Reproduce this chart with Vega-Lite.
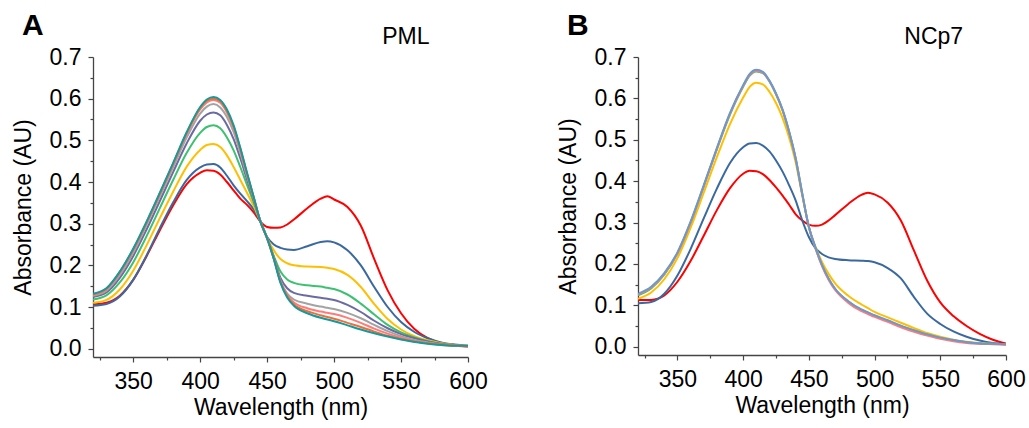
{
"$schema": "https://vega.github.io/schema/vega-lite/v6.json",
"background": "white",
"padding": {"left": 12, "top": 10, "right": 5, "bottom": 5},
"spacing": 69,
"resolve": {"scale": {"color": "independent"}},
"config": {
  "font": "Liberation Sans",
  "view": {"stroke": null},
  "axis": {"labelFont": "Liberation Sans", "titleFont": "Liberation Sans", "labelFontSize": 23, "titleFontSize": 23, "titleFontWeight": "normal", "labelColor": "#000", "titleColor": "#000", "domainColor": "#444", "tickColor": "#444", "domainWidth": 1.3, "tickWidth": 1.2, "grid": false, "labelOverlap": false, "labelFlush": false},
  "title": {"font": "Liberation Sans", "fontSize": 30, "fontWeight": "bold", "color": "#000", "anchor": "start", "frame": "bounds"}
},
"datasets": {
"A": [
{"s":"red","x":320,"y":0.106},{"s":"red","x":330,"y":0.11},{"s":"red","x":340,"y":0.127},{"s":"red","x":350,"y":0.165},{"s":"red","x":360,"y":0.222},{"s":"red","x":370,"y":0.285},{"s":"red","x":380,"y":0.345},{"s":"red","x":390,"y":0.395},{"s":"red","x":400,"y":0.422},{"s":"red","x":405,"y":0.428},{"s":"red","x":410,"y":0.427},{"s":"red","x":415,"y":0.418},{"s":"red","x":420,"y":0.4},{"s":"red","x":425,"y":0.38},{"s":"red","x":430,"y":0.36},{"s":"red","x":435,"y":0.345},{"s":"red","x":440,"y":0.327},{"s":"red","x":445,"y":0.305},{"s":"red","x":450,"y":0.292},{"s":"red","x":455,"y":0.29},{"s":"red","x":460,"y":0.291},{"s":"red","x":465,"y":0.298},{"s":"red","x":470,"y":0.31},{"s":"red","x":480,"y":0.337},{"s":"red","x":490,"y":0.36},{"s":"red","x":495,"y":0.366},{"s":"red","x":500,"y":0.358},{"s":"red","x":510,"y":0.34},{"s":"red","x":520,"y":0.295},{"s":"red","x":530,"y":0.215},{"s":"red","x":540,"y":0.14},{"s":"red","x":550,"y":0.085},{"s":"red","x":560,"y":0.047},{"s":"red","x":570,"y":0.025},{"s":"red","x":580,"y":0.013},{"s":"red","x":590,"y":0.008},{"s":"red","x":600,"y":0.005},
{"s":"blue","x":320,"y":0.103},{"s":"blue","x":330,"y":0.107},{"s":"blue","x":340,"y":0.125},{"s":"blue","x":350,"y":0.165},{"s":"blue","x":360,"y":0.224},{"s":"blue","x":370,"y":0.29},{"s":"blue","x":380,"y":0.352},{"s":"blue","x":390,"y":0.405},{"s":"blue","x":400,"y":0.435},{"s":"blue","x":405,"y":0.442},{"s":"blue","x":410,"y":0.443},{"s":"blue","x":415,"y":0.435},{"s":"blue","x":420,"y":0.415},{"s":"blue","x":425,"y":0.392},{"s":"blue","x":430,"y":0.372},{"s":"blue","x":435,"y":0.354},{"s":"blue","x":440,"y":0.334},{"s":"blue","x":445,"y":0.305},{"s":"blue","x":450,"y":0.268},{"s":"blue","x":455,"y":0.25},{"s":"blue","x":460,"y":0.242},{"s":"blue","x":465,"y":0.238},{"s":"blue","x":470,"y":0.237},{"s":"blue","x":480,"y":0.246},{"s":"blue","x":490,"y":0.256},{"s":"blue","x":495,"y":0.258},{"s":"blue","x":500,"y":0.255},{"s":"blue","x":510,"y":0.236},{"s":"blue","x":520,"y":0.2},{"s":"blue","x":530,"y":0.148},{"s":"blue","x":540,"y":0.1},{"s":"blue","x":550,"y":0.064},{"s":"blue","x":560,"y":0.04},{"s":"blue","x":570,"y":0.025},{"s":"blue","x":580,"y":0.015},{"s":"blue","x":590,"y":0.01},{"s":"blue","x":600,"y":0.007},
{"s":"yellow","x":320,"y":0.11},{"s":"yellow","x":330,"y":0.117},{"s":"yellow","x":340,"y":0.142},{"s":"yellow","x":350,"y":0.187},{"s":"yellow","x":360,"y":0.248},{"s":"yellow","x":370,"y":0.314},{"s":"yellow","x":380,"y":0.378},{"s":"yellow","x":390,"y":0.437},{"s":"yellow","x":400,"y":0.477},{"s":"yellow","x":405,"y":0.489},{"s":"yellow","x":410,"y":0.491},{"s":"yellow","x":415,"y":0.484},{"s":"yellow","x":420,"y":0.464},{"s":"yellow","x":425,"y":0.436},{"s":"yellow","x":430,"y":0.405},{"s":"yellow","x":435,"y":0.374},{"s":"yellow","x":440,"y":0.342},{"s":"yellow","x":445,"y":0.306},{"s":"yellow","x":450,"y":0.266},{"s":"yellow","x":455,"y":0.236},{"s":"yellow","x":460,"y":0.215},{"s":"yellow","x":465,"y":0.205},{"s":"yellow","x":470,"y":0.2},{"s":"yellow","x":480,"y":0.197},{"s":"yellow","x":490,"y":0.196},{"s":"yellow","x":495,"y":0.194},{"s":"yellow","x":500,"y":0.191},{"s":"yellow","x":510,"y":0.177},{"s":"yellow","x":520,"y":0.148},{"s":"yellow","x":530,"y":0.107},{"s":"yellow","x":540,"y":0.071},{"s":"yellow","x":550,"y":0.046},{"s":"yellow","x":560,"y":0.03},{"s":"yellow","x":570,"y":0.02},{"s":"yellow","x":580,"y":0.013},{"s":"yellow","x":590,"y":0.009},{"s":"yellow","x":600,"y":0.006},
{"s":"green","x":320,"y":0.118},{"s":"green","x":330,"y":0.128},{"s":"green","x":340,"y":0.159},{"s":"green","x":350,"y":0.207},{"s":"green","x":360,"y":0.27},{"s":"green","x":370,"y":0.338},{"s":"green","x":380,"y":0.406},{"s":"green","x":390,"y":0.47},{"s":"green","x":400,"y":0.518},{"s":"green","x":405,"y":0.532},{"s":"green","x":410,"y":0.536},{"s":"green","x":415,"y":0.529},{"s":"green","x":420,"y":0.507},{"s":"green","x":425,"y":0.476},{"s":"green","x":430,"y":0.436},{"s":"green","x":435,"y":0.393},{"s":"green","x":440,"y":0.351},{"s":"green","x":445,"y":0.307},{"s":"green","x":450,"y":0.265},{"s":"green","x":455,"y":0.222},{"s":"green","x":460,"y":0.185},{"s":"green","x":465,"y":0.166},{"s":"green","x":470,"y":0.158},{"s":"green","x":480,"y":0.152},{"s":"green","x":490,"y":0.149},{"s":"green","x":495,"y":0.146},{"s":"green","x":500,"y":0.143},{"s":"green","x":510,"y":0.13},{"s":"green","x":520,"y":0.108},{"s":"green","x":530,"y":0.082},{"s":"green","x":540,"y":0.057},{"s":"green","x":550,"y":0.039},{"s":"green","x":560,"y":0.027},{"s":"green","x":570,"y":0.018},{"s":"green","x":580,"y":0.012},{"s":"green","x":590,"y":0.008},{"s":"green","x":600,"y":0.006},
{"s":"purple","x":320,"y":0.124},{"s":"purple","x":330,"y":0.135},{"s":"purple","x":340,"y":0.17},{"s":"purple","x":350,"y":0.222},{"s":"purple","x":360,"y":0.286},{"s":"purple","x":370,"y":0.355},{"s":"purple","x":380,"y":0.425},{"s":"purple","x":390,"y":0.493},{"s":"purple","x":400,"y":0.547},{"s":"purple","x":405,"y":0.562},{"s":"purple","x":410,"y":0.567},{"s":"purple","x":415,"y":0.56},{"s":"purple","x":420,"y":0.537},{"s":"purple","x":425,"y":0.503},{"s":"purple","x":430,"y":0.457},{"s":"purple","x":435,"y":0.406},{"s":"purple","x":440,"y":0.357},{"s":"purple","x":445,"y":0.306},{"s":"purple","x":450,"y":0.265},{"s":"purple","x":455,"y":0.22},{"s":"purple","x":460,"y":0.17},{"s":"purple","x":465,"y":0.145},{"s":"purple","x":470,"y":0.134},{"s":"purple","x":480,"y":0.127},{"s":"purple","x":490,"y":0.122},{"s":"purple","x":495,"y":0.12},{"s":"purple","x":500,"y":0.117},{"s":"purple","x":510,"y":0.105},{"s":"purple","x":520,"y":0.088},{"s":"purple","x":530,"y":0.067},{"s":"purple","x":540,"y":0.049},{"s":"purple","x":550,"y":0.035},{"s":"purple","x":560,"y":0.025},{"s":"purple","x":570,"y":0.017},{"s":"purple","x":580,"y":0.011},{"s":"purple","x":590,"y":0.008},{"s":"purple","x":600,"y":0.006},
{"s":"gray","x":320,"y":0.127},{"s":"gray","x":330,"y":0.139},{"s":"gray","x":340,"y":0.177},{"s":"gray","x":350,"y":0.231},{"s":"gray","x":360,"y":0.297},{"s":"gray","x":370,"y":0.366},{"s":"gray","x":380,"y":0.437},{"s":"gray","x":390,"y":0.507},{"s":"gray","x":400,"y":0.564},{"s":"gray","x":405,"y":0.581},{"s":"gray","x":410,"y":0.587},{"s":"gray","x":415,"y":0.579},{"s":"gray","x":420,"y":0.556},{"s":"gray","x":425,"y":0.52},{"s":"gray","x":430,"y":0.47},{"s":"gray","x":435,"y":0.414},{"s":"gray","x":440,"y":0.361},{"s":"gray","x":445,"y":0.305},{"s":"gray","x":450,"y":0.265},{"s":"gray","x":455,"y":0.217},{"s":"gray","x":460,"y":0.163},{"s":"gray","x":465,"y":0.132},{"s":"gray","x":470,"y":0.118},{"s":"gray","x":480,"y":0.108},{"s":"gray","x":490,"y":0.101},{"s":"gray","x":495,"y":0.098},{"s":"gray","x":500,"y":0.095},{"s":"gray","x":510,"y":0.086},{"s":"gray","x":520,"y":0.073},{"s":"gray","x":530,"y":0.057},{"s":"gray","x":540,"y":0.042},{"s":"gray","x":550,"y":0.03},{"s":"gray","x":560,"y":0.021},{"s":"gray","x":570,"y":0.015},{"s":"gray","x":580,"y":0.01},{"s":"gray","x":590,"y":0.008},{"s":"gray","x":600,"y":0.006},
{"s":"salmon","x":320,"y":0.129},{"s":"salmon","x":330,"y":0.142},{"s":"salmon","x":340,"y":0.182},{"s":"salmon","x":350,"y":0.236},{"s":"salmon","x":360,"y":0.302},{"s":"salmon","x":370,"y":0.371},{"s":"salmon","x":380,"y":0.443},{"s":"salmon","x":390,"y":0.515},{"s":"salmon","x":400,"y":0.574},{"s":"salmon","x":405,"y":0.591},{"s":"salmon","x":410,"y":0.597},{"s":"salmon","x":415,"y":0.59},{"s":"salmon","x":420,"y":0.567},{"s":"salmon","x":425,"y":0.53},{"s":"salmon","x":430,"y":0.477},{"s":"salmon","x":435,"y":0.419},{"s":"salmon","x":440,"y":0.363},{"s":"salmon","x":445,"y":0.305},{"s":"salmon","x":450,"y":0.265},{"s":"salmon","x":455,"y":0.216},{"s":"salmon","x":460,"y":0.161},{"s":"salmon","x":465,"y":0.128},{"s":"salmon","x":470,"y":0.111},{"s":"salmon","x":480,"y":0.097},{"s":"salmon","x":490,"y":0.089},{"s":"salmon","x":495,"y":0.086},{"s":"salmon","x":500,"y":0.083},{"s":"salmon","x":510,"y":0.074},{"s":"salmon","x":520,"y":0.062},{"s":"salmon","x":530,"y":0.048},{"s":"salmon","x":540,"y":0.036},{"s":"salmon","x":550,"y":0.026},{"s":"salmon","x":560,"y":0.018},{"s":"salmon","x":570,"y":0.013},{"s":"salmon","x":580,"y":0.009},{"s":"salmon","x":590,"y":0.007},{"s":"salmon","x":600,"y":0.005},
{"s":"orange","x":320,"y":0.13},{"s":"orange","x":330,"y":0.144},{"s":"orange","x":340,"y":0.184},{"s":"orange","x":350,"y":0.238},{"s":"orange","x":360,"y":0.303},{"s":"orange","x":370,"y":0.373},{"s":"orange","x":380,"y":0.445},{"s":"orange","x":390,"y":0.518},{"s":"orange","x":400,"y":0.577},{"s":"orange","x":405,"y":0.595},{"s":"orange","x":410,"y":0.6},{"s":"orange","x":415,"y":0.594},{"s":"orange","x":420,"y":0.57},{"s":"orange","x":425,"y":0.533},{"s":"orange","x":430,"y":0.48},{"s":"orange","x":435,"y":0.42},{"s":"orange","x":440,"y":0.363},{"s":"orange","x":445,"y":0.305},{"s":"orange","x":450,"y":0.265},{"s":"orange","x":455,"y":0.216},{"s":"orange","x":460,"y":0.16},{"s":"orange","x":465,"y":0.126},{"s":"orange","x":470,"y":0.106},{"s":"orange","x":480,"y":0.09},{"s":"orange","x":490,"y":0.08},{"s":"orange","x":495,"y":0.076},{"s":"orange","x":500,"y":0.072},{"s":"orange","x":510,"y":0.062},{"s":"orange","x":520,"y":0.052},{"s":"orange","x":530,"y":0.041},{"s":"orange","x":540,"y":0.031},{"s":"orange","x":550,"y":0.023},{"s":"orange","x":560,"y":0.017},{"s":"orange","x":570,"y":0.013},{"s":"orange","x":580,"y":0.01},{"s":"orange","x":590,"y":0.008},{"s":"orange","x":600,"y":0.007},
{"s":"teal","x":320,"y":0.132},{"s":"teal","x":330,"y":0.145},{"s":"teal","x":340,"y":0.185},{"s":"teal","x":350,"y":0.24},{"s":"teal","x":360,"y":0.305},{"s":"teal","x":370,"y":0.375},{"s":"teal","x":380,"y":0.447},{"s":"teal","x":390,"y":0.52},{"s":"teal","x":400,"y":0.58},{"s":"teal","x":405,"y":0.598},{"s":"teal","x":410,"y":0.604},{"s":"teal","x":415,"y":0.597},{"s":"teal","x":420,"y":0.574},{"s":"teal","x":425,"y":0.536},{"s":"teal","x":430,"y":0.482},{"s":"teal","x":435,"y":0.422},{"s":"teal","x":440,"y":0.364},{"s":"teal","x":445,"y":0.305},{"s":"teal","x":450,"y":0.265},{"s":"teal","x":455,"y":0.215},{"s":"teal","x":460,"y":0.158},{"s":"teal","x":465,"y":0.123},{"s":"teal","x":470,"y":0.103},{"s":"teal","x":480,"y":0.085},{"s":"teal","x":490,"y":0.074},{"s":"teal","x":495,"y":0.07},{"s":"teal","x":500,"y":0.066},{"s":"teal","x":510,"y":0.056},{"s":"teal","x":520,"y":0.046},{"s":"teal","x":530,"y":0.037},{"s":"teal","x":540,"y":0.029},{"s":"teal","x":550,"y":0.022},{"s":"teal","x":560,"y":0.016},{"s":"teal","x":570,"y":0.012},{"s":"teal","x":580,"y":0.009},{"s":"teal","x":590,"y":0.007},{"s":"teal","x":600,"y":0.007}
],
"B": [
{"s":"red","x":320,"y":0.113},{"s":"red","x":330,"y":0.113},{"s":"red","x":340,"y":0.124},{"s":"red","x":350,"y":0.157},{"s":"red","x":360,"y":0.207},{"s":"red","x":370,"y":0.268},{"s":"red","x":380,"y":0.33},{"s":"red","x":390,"y":0.383},{"s":"red","x":400,"y":0.418},{"s":"red","x":405,"y":0.425},{"s":"red","x":410,"y":0.424},{"s":"red","x":415,"y":0.417},{"s":"red","x":420,"y":0.403},{"s":"red","x":425,"y":0.385},{"s":"red","x":430,"y":0.365},{"s":"red","x":435,"y":0.343},{"s":"red","x":440,"y":0.32},{"s":"red","x":445,"y":0.305},{"s":"red","x":450,"y":0.295},{"s":"red","x":455,"y":0.292},{"s":"red","x":460,"y":0.295},{"s":"red","x":465,"y":0.305},{"s":"red","x":470,"y":0.318},{"s":"red","x":480,"y":0.345},{"s":"red","x":490,"y":0.367},{"s":"red","x":495,"y":0.372},{"s":"red","x":500,"y":0.368},{"s":"red","x":510,"y":0.348},{"s":"red","x":520,"y":0.305},{"s":"red","x":530,"y":0.232},{"s":"red","x":540,"y":0.16},{"s":"red","x":550,"y":0.107},{"s":"red","x":560,"y":0.074},{"s":"red","x":570,"y":0.05},{"s":"red","x":580,"y":0.031},{"s":"red","x":590,"y":0.017},{"s":"red","x":600,"y":0.008},
{"s":"blue","x":320,"y":0.105},{"s":"blue","x":330,"y":0.108},{"s":"blue","x":340,"y":0.128},{"s":"blue","x":350,"y":0.172},{"s":"blue","x":360,"y":0.236},{"s":"blue","x":370,"y":0.31},{"s":"blue","x":380,"y":0.382},{"s":"blue","x":390,"y":0.444},{"s":"blue","x":400,"y":0.482},{"s":"blue","x":405,"y":0.491},{"s":"blue","x":410,"y":0.492},{"s":"blue","x":415,"y":0.486},{"s":"blue","x":420,"y":0.472},{"s":"blue","x":425,"y":0.45},{"s":"blue","x":430,"y":0.423},{"s":"blue","x":435,"y":0.39},{"s":"blue","x":440,"y":0.353},{"s":"blue","x":445,"y":0.305},{"s":"blue","x":450,"y":0.265},{"s":"blue","x":455,"y":0.238},{"s":"blue","x":460,"y":0.224},{"s":"blue","x":465,"y":0.216},{"s":"blue","x":470,"y":0.212},{"s":"blue","x":480,"y":0.209},{"s":"blue","x":490,"y":0.208},{"s":"blue","x":495,"y":0.207},{"s":"blue","x":500,"y":0.204},{"s":"blue","x":510,"y":0.19},{"s":"blue","x":520,"y":0.165},{"s":"blue","x":530,"y":0.12},{"s":"blue","x":540,"y":0.08},{"s":"blue","x":550,"y":0.055},{"s":"blue","x":560,"y":0.037},{"s":"blue","x":570,"y":0.024},{"s":"blue","x":580,"y":0.015},{"s":"blue","x":590,"y":0.009},{"s":"blue","x":600,"y":0.006},
{"s":"yellow","x":320,"y":0.116},{"s":"yellow","x":330,"y":0.131},{"s":"yellow","x":340,"y":0.163},{"s":"yellow","x":350,"y":0.214},{"s":"yellow","x":360,"y":0.287},{"s":"yellow","x":370,"y":0.372},{"s":"yellow","x":380,"y":0.458},{"s":"yellow","x":390,"y":0.538},{"s":"yellow","x":400,"y":0.602},{"s":"yellow","x":405,"y":0.628},{"s":"yellow","x":410,"y":0.638},{"s":"yellow","x":415,"y":0.634},{"s":"yellow","x":420,"y":0.616},{"s":"yellow","x":425,"y":0.589},{"s":"yellow","x":430,"y":0.553},{"s":"yellow","x":435,"y":0.505},{"s":"yellow","x":440,"y":0.445},{"s":"yellow","x":445,"y":0.365},{"s":"yellow","x":450,"y":0.29},{"s":"yellow","x":455,"y":0.242},{"s":"yellow","x":460,"y":0.205},{"s":"yellow","x":465,"y":0.176},{"s":"yellow","x":470,"y":0.153},{"s":"yellow","x":480,"y":0.123},{"s":"yellow","x":490,"y":0.102},{"s":"yellow","x":495,"y":0.093},{"s":"yellow","x":500,"y":0.084},{"s":"yellow","x":510,"y":0.071},{"s":"yellow","x":520,"y":0.058},{"s":"yellow","x":530,"y":0.045},{"s":"yellow","x":540,"y":0.033},{"s":"yellow","x":550,"y":0.024},{"s":"yellow","x":560,"y":0.017},{"s":"yellow","x":570,"y":0.012},{"s":"yellow","x":580,"y":0.009},{"s":"yellow","x":590,"y":0.007},{"s":"yellow","x":600,"y":0.006},
{"s":"green","x":320,"y":0.124},{"s":"green","x":330,"y":0.141},{"s":"green","x":340,"y":0.174},{"s":"green","x":350,"y":0.225},{"s":"green","x":360,"y":0.299},{"s":"green","x":370,"y":0.387},{"s":"green","x":380,"y":0.477},{"s":"green","x":390,"y":0.561},{"s":"green","x":400,"y":0.628},{"s":"green","x":405,"y":0.655},{"s":"green","x":410,"y":0.665},{"s":"green","x":415,"y":0.661},{"s":"green","x":420,"y":0.641},{"s":"green","x":425,"y":0.61},{"s":"green","x":430,"y":0.571},{"s":"green","x":435,"y":0.518},{"s":"green","x":440,"y":0.453},{"s":"green","x":445,"y":0.368},{"s":"green","x":450,"y":0.289},{"s":"green","x":455,"y":0.239},{"s":"green","x":460,"y":0.197},{"s":"green","x":465,"y":0.164},{"s":"green","x":470,"y":0.139},{"s":"green","x":480,"y":0.109},{"s":"green","x":490,"y":0.089},{"s":"green","x":495,"y":0.082},{"s":"green","x":500,"y":0.075},{"s":"green","x":510,"y":0.063},{"s":"green","x":520,"y":0.05},{"s":"green","x":530,"y":0.039},{"s":"green","x":540,"y":0.029},{"s":"green","x":550,"y":0.021},{"s":"green","x":560,"y":0.015},{"s":"green","x":570,"y":0.011},{"s":"green","x":580,"y":0.008},{"s":"green","x":590,"y":0.007},{"s":"green","x":600,"y":0.006},
{"s":"salmon","x":320,"y":0.126},{"s":"salmon","x":330,"y":0.143},{"s":"salmon","x":340,"y":0.176},{"s":"salmon","x":350,"y":0.226},{"s":"salmon","x":360,"y":0.3},{"s":"salmon","x":370,"y":0.388},{"s":"salmon","x":380,"y":0.478},{"s":"salmon","x":390,"y":0.563},{"s":"salmon","x":400,"y":0.63},{"s":"salmon","x":405,"y":0.657},{"s":"salmon","x":410,"y":0.667},{"s":"salmon","x":415,"y":0.662},{"s":"salmon","x":420,"y":0.642},{"s":"salmon","x":425,"y":0.611},{"s":"salmon","x":430,"y":0.572},{"s":"salmon","x":435,"y":0.519},{"s":"salmon","x":440,"y":0.454},{"s":"salmon","x":445,"y":0.369},{"s":"salmon","x":450,"y":0.289},{"s":"salmon","x":455,"y":0.238},{"s":"salmon","x":460,"y":0.195},{"s":"salmon","x":465,"y":0.162},{"s":"salmon","x":470,"y":0.137},{"s":"salmon","x":480,"y":0.106},{"s":"salmon","x":490,"y":0.086},{"s":"salmon","x":495,"y":0.079},{"s":"salmon","x":500,"y":0.072},{"s":"salmon","x":510,"y":0.06},{"s":"salmon","x":520,"y":0.047},{"s":"salmon","x":530,"y":0.036},{"s":"salmon","x":540,"y":0.027},{"s":"salmon","x":550,"y":0.019},{"s":"salmon","x":560,"y":0.013},{"s":"salmon","x":570,"y":0.009},{"s":"salmon","x":580,"y":0.007},{"s":"salmon","x":590,"y":0.006},{"s":"salmon","x":600,"y":0.005},
{"s":"steel","x":320,"y":0.128},{"s":"steel","x":330,"y":0.145},{"s":"steel","x":340,"y":0.178},{"s":"steel","x":350,"y":0.228},{"s":"steel","x":360,"y":0.302},{"s":"steel","x":370,"y":0.39},{"s":"steel","x":380,"y":0.48},{"s":"steel","x":390,"y":0.565},{"s":"steel","x":400,"y":0.632},{"s":"steel","x":405,"y":0.659},{"s":"steel","x":410,"y":0.669},{"s":"steel","x":415,"y":0.664},{"s":"steel","x":420,"y":0.643},{"s":"steel","x":425,"y":0.612},{"s":"steel","x":430,"y":0.573},{"s":"steel","x":435,"y":0.52},{"s":"steel","x":440,"y":0.455},{"s":"steel","x":445,"y":0.37},{"s":"steel","x":450,"y":0.29},{"s":"steel","x":455,"y":0.24},{"s":"steel","x":460,"y":0.198},{"s":"steel","x":465,"y":0.165},{"s":"steel","x":470,"y":0.14},{"s":"steel","x":480,"y":0.11},{"s":"steel","x":490,"y":0.09},{"s":"steel","x":495,"y":0.083},{"s":"steel","x":500,"y":0.076},{"s":"steel","x":510,"y":0.064},{"s":"steel","x":520,"y":0.051},{"s":"steel","x":530,"y":0.04},{"s":"steel","x":540,"y":0.03},{"s":"steel","x":550,"y":0.022},{"s":"steel","x":560,"y":0.016},{"s":"steel","x":570,"y":0.011},{"s":"steel","x":580,"y":0.008},{"s":"steel","x":590,"y":0.007},{"s":"steel","x":600,"y":0.006}
]
},
"hconcat": [
{
  "width": 375, "height": 300,
  "title": {"text": "A", "dx": 10, "offset": -15},
  "resolve": {"axis": {"x": "independent", "y": "independent"}},
  "layer": [
    {
      "data": {"name": "A"},
      "mark": {"type": "line", "strokeWidth": 2, "interpolate": "monotone", "clip": true},
      "encoding": {
        "x": {"field": "x", "type": "quantitative", "scale": {"domain": [320, 600], "nice": false, "zero": false},
              "axis": {"title": "Wavelength (nm)", "values": [350,400,450,500,550,600], "format": "d", "tickSize": 5, "labelPadding": 8, "titlePadding": 3}},
        "y": {"field": "y", "type": "quantitative", "scale": {"domain": [-0.02, 0.7], "nice": false, "zero": false},
              "axis": {"title": "Absorbance (AU)", "values": [0,0.1,0.2,0.3,0.4,0.5,0.6,0.7], "format": ".1f", "tickSize": 5, "labelPadding": 7, "titlePadding": 14}},
        "color": {"field": "s", "type": "nominal", "legend": null, "sort": null,
                  "scale": {"domain": ["red","blue","yellow","green","purple","gray","salmon","orange","teal"], "range": ["#FF0000","#3A69A0","#FFBF00","#3CC170","#6B6BA3","#A3A3A3","#FF7B7B","#EE6F3C","#16999A"]}}
      }
    },
    {
      "data": {"values": [{}]},
      "mark": {"type": "text", "font": "Liberation Sans", "fontSize": 23, "color": "#000"},
      "encoding": {
        "x": {"datum": 553.6, "type": "quantitative", "scale": {"domain": [320, 600], "nice": false, "zero": false},
              "axis": {"orient": "bottom", "title": null, "values": [325,375,425,475,525,575], "labels": false, "domain": false, "tickSize": 3}},
        "y": {"datum": 0.748, "type": "quantitative", "scale": {"domain": [-0.02, 0.7], "nice": false, "zero": false},
              "axis": {"orient": "left", "title": null, "values": [0.05,0.15,0.25,0.35,0.45,0.55,0.65], "labels": false, "domain": false, "tickSize": 3}},
        "text": {"value": "PML"}
      }
    }
  ]
},
{
  "width": 368, "height": 298,
  "title": {"text": "B", "dx": 10, "offset": -15},
  "resolve": {"axis": {"x": "independent", "y": "independent"}},
  "layer": [
    {
      "data": {"name": "B"},
      "mark": {"type": "line", "strokeWidth": 2, "interpolate": "monotone", "clip": true},
      "encoding": {
        "x": {"field": "x", "type": "quantitative", "scale": {"domain": [320, 600], "nice": false, "zero": false},
              "axis": {"title": "Wavelength (nm)", "values": [350,400,450,500,550,600], "format": "d", "tickSize": 5, "labelPadding": 8, "titlePadding": 3}},
        "y": {"field": "y", "type": "quantitative", "scale": {"domain": [-0.02, 0.7], "nice": false, "zero": false},
              "axis": {"title": "Absorbance (AU)", "values": [0,0.1,0.2,0.3,0.4,0.5,0.6,0.7], "format": ".1f", "tickSize": 5, "labelPadding": 7, "titlePadding": 14}},
        "color": {"field": "s", "type": "nominal", "legend": null, "sort": null,
                  "scale": {"domain": ["red","blue","yellow","green","salmon","steel"], "range": ["#FF0000","#3A69A0","#FFBF00","#3CC170","#FF7B7B","#6C98CD"]}}
      }
    },
    {
      "data": {"values": [{}]},
      "mark": {"type": "text", "font": "Liberation Sans", "fontSize": 23, "color": "#000"},
      "encoding": {
        "x": {"datum": 545, "type": "quantitative", "scale": {"domain": [320, 600], "nice": false, "zero": false},
              "axis": {"orient": "bottom", "title": null, "values": [325,375,425,475,525,575], "labels": false, "domain": false, "tickSize": 3}},
        "y": {"datum": 0.749, "type": "quantitative", "scale": {"domain": [-0.02, 0.7], "nice": false, "zero": false},
              "axis": {"orient": "left", "title": null, "values": [0.05,0.15,0.25,0.35,0.45,0.55,0.65], "labels": false, "domain": false, "tickSize": 3}},
        "text": {"value": "NCp7"}
      }
    }
  ]
}
]
}
